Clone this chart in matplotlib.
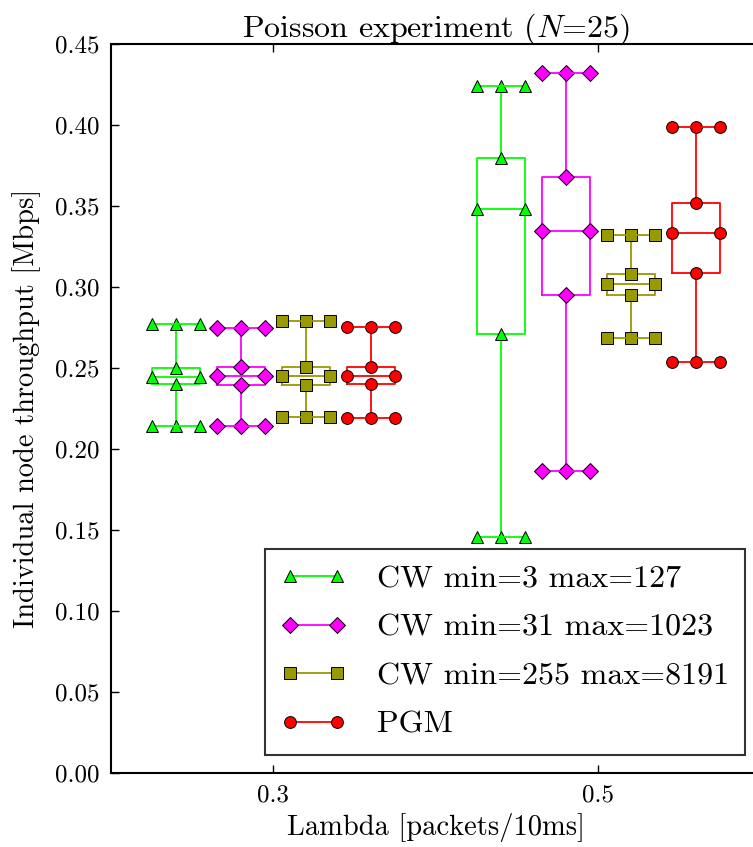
import matplotlib
matplotlib.use("Agg")
import matplotlib.pyplot as plt
from matplotlib.lines import Line2D

plt.rcParams['font.family'] = ['cmr10', 'DejaVu Serif']
plt.rcParams['mathtext.fontset'] = 'cm'
plt.rcParams['axes.formatter.use_mathtext'] = True

lambdas = ['0.3', '0.5']
labels = ['CW min=3 max=127', 'CW min=31 max=1023', 'CW min=255 max=8191', 'PGM']
colors = ['#00ff00', '#ff00ff', '#999900', '#ff0000']
markers = ['^', 'D', 's', 'o']

# per scheme: [lambda=0.3, lambda=0.5] as (whislo, q1, med, q3, whishi)
cw3 = [(0.2141, 0.2401, 0.2447, 0.2502, 0.2770),
       (0.1457, 0.2710, 0.3481, 0.3798, 0.4243)]
cw31 = [(0.2142, 0.2395, 0.2451, 0.2508, 0.2745),
        (0.1864, 0.2951, 0.3346, 0.3681, 0.4323)]
cw255 = [(0.2200, 0.2395, 0.2451, 0.2508, 0.2790),
         (0.2687, 0.2949, 0.3019, 0.3082, 0.3323)]
pgm = [(0.2193, 0.2400, 0.2451, 0.2508, 0.2755),
       (0.2537, 0.3088, 0.3331, 0.3520, 0.3988)]
series = [cw3, cw31, cw255, pgm]

fig = plt.figure(figsize=(7.53, 8.47), dpi=100)
ax = fig.add_axes([0.1474, 0.0874, 650 / 753, 0.8607])

for i, (vals, c, m) in enumerate(zip(series, colors, markers)):
    stats = []
    for lo, q1, med, q3, hi in vals:
        stats.append(dict(whislo=lo, q1=q1, med=med, q3=q3, whishi=hi, fliers=[]))
    pos = [1 + i, 6 + i]
    mk = dict(color=c, lw=1.3, marker=m, ms=8.5, mfc=c, mec='black', mew=0.7)
    ax.bxp(stats, positions=pos, widths=0.75, capwidths=0.75, showfliers=False,
           manage_ticks=False,
           boxprops=dict(color=c, lw=1.3),
           whiskerprops=mk, capprops=mk, medianprops=mk)

ax.set_xlim(0, 10)
ax.set_ylim(0, 0.45)
ax.set_xticks([2.5, 7.5])
ax.set_xticklabels(lambdas)
ax.set_yticks([0.0, 0.05, 0.10, 0.15, 0.20, 0.25, 0.30, 0.35, 0.40, 0.45])
ax.set_yticklabels(['%.2f' % v for v in ax.get_yticks()])
ax.tick_params(direction='in', top=True, right=True, length=6, width=1,
               labelsize=18, pad=8)
for s in ax.spines.values():
    s.set_linewidth(1.5)

ax.set_title('Poisson experiment ($N$=25)', fontsize=23, pad=5)
ax.set_xlabel('Lambda [packets/10ms]', fontsize=20.5, labelpad=5)
ax.set_ylabel('Individual node throughput [Mbps]', fontsize=20.5, labelpad=10)

handles = [Line2D([], [], color=c, lw=1.3, marker=m, ms=8.5, mfc=c, mec='black', mew=0.7)
           for c, m in zip(colors, markers)]
leg = ax.legend(handles, labels, numpoints=2, fontsize=23, fancybox=False,
                loc='lower right', bbox_to_anchor=(0.975, 0.025),
                borderpad=0.5, borderaxespad=0, handlelength=2.05,
                handletextpad=0.95, labelspacing=0.63)
leg.get_frame().set_edgecolor('black')
leg.get_frame().set_linewidth(1.5)

fig.savefig('out.png', dpi=100)
